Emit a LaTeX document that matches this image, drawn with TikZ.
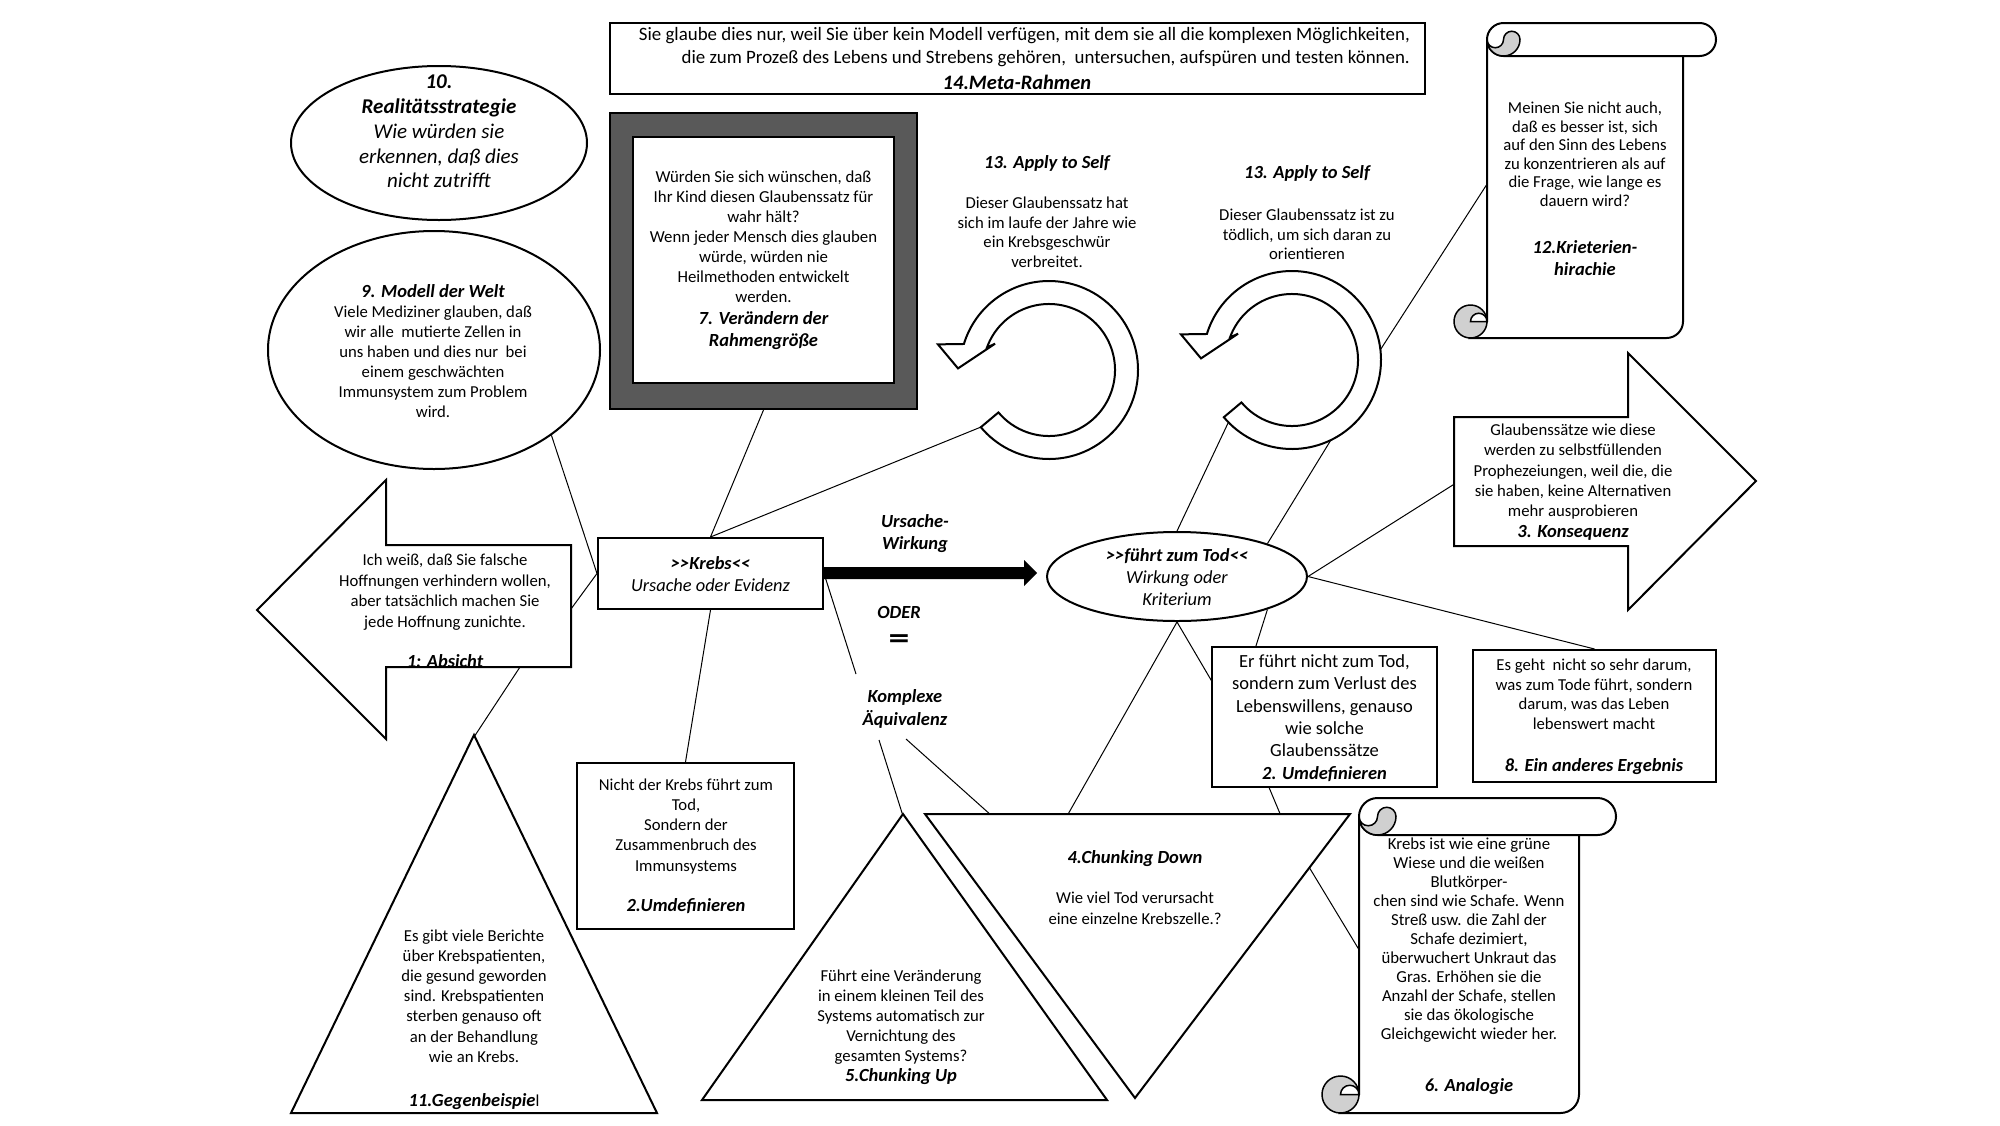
\documentclass[tikz,border=0pt]{standalone}
\usepackage{fontspec}
\usepackage{graphicx}
\setmainfont{Carlito}
\usetikzlibrary{shapes.geometric}
\pgfdeclarelayer{bg}
\pgfsetlayers{bg,main}
\newcommand{\fsz}[2]{\fontsize{#1}{#2}\selectfont}
\newcommand{\bi}[1]{\textbf{\textit{#1}}}
\newcommand{\ttl}[1]{{\fontsize{18.5}{20}\selectfont\bfseries\itshape #1}}
\newcommand{\dgt}{>\kern0pt>}
\newcommand{\dlt}{<\kern0pt<}
\definecolor{framegrey}{HTML}{595959}
\definecolor{curlgrey}{HTML}{D0D0D0}
\tikzset{
  shp/.style={draw=black, line width=2pt, fill=white, line join=miter},
  box/.style={shp, rectangle, inner sep=0pt},
  oval/.style={shp, ellipse, inner sep=0pt},
  con/.style={draw=black, line width=1pt},
  txt/.style={align=center, inner sep=0pt},
  curl/.style={draw=black, line width=1.5pt, fill=curlgrey},
}
\newcommand{\vscroll}[5]{%
  \pgfmathsetmacro\vsL{#1}\pgfmathsetmacro\vsT{#2}%
  \pgfmathsetmacro\vsR{#3}\pgfmathsetmacro\vsB{#4}\pgfmathsetmacro\vsr{#5}%
  \path[shp] ({\vsL-\vsr},\vsB) -- ({\vsR-\vsr},\vsB) arc[start angle=90, end angle=0, radius=\vsr] -- (\vsR,{\vsT+\vsr}) -- (\vsL,{\vsT+\vsr}) -- (\vsL,{\vsB-\vsr}) -- cycle;
  \path[curl] ({\vsL-\vsr},{\vsB-\vsr}) circle[radius=\vsr];
  \path[shp, line width=1.5pt] (\vsL,{\vsB-\vsr}) arc[start angle=0, end angle=-180, radius=\vsr/2] -- cycle;
  \path[shp, rounded corners=\vsr pt] (\vsL,\vsT) rectangle ({\vsR+2*\vsr},{\vsT+2*\vsr});
  \path[curl] (\vsL,{\vsT+\vsr}) arc[start angle=180, end angle=0, radius=\vsr] arc[start angle=0, end angle=-180, radius=\vsr/2] arc[start angle=0, end angle=180, radius=\vsr/2] -- cycle;
}
\newcommand{\circarrow}[2]{%
  \begin{scope}[shift={#2}]
    \path[shp] (140:89) arc[start angle=140, end angle=-163, radius=89] -- (-167:114) -- (-179:91) -- (-154:60) -- (-160:66) arc[start angle=-160, end angle=140, radius=66] -- cycle;
    \coordinate (#1tail) at (138:80);
    \coordinate (#1bot) at (62:87);
    \coordinate (#1right) at (-5:87);
  \end{scope}
}
\begin{document}
\begin{tikzpicture}[x=1pt,y=-1pt]
\useasboundingbox (0,0) rectangle (2000,1125);

% ---------- boxes and ellipses ----------
\node[box, minimum width=815pt, minimum height=71pt] (b14) at (1017.5,58.5) {};
\node[box, fill=framegrey, minimum width=307pt, minimum height=296pt] (frame) at (763.5,261) {};
\node[box, minimum width=261pt, minimum height=246pt] (frin) at (763.5,260) {};
\node[oval, minimum width=296pt, minimum height=154pt] (e10) at (439,143) {};
\node[oval, minimum width=332pt, minimum height=238pt] (e9) at (434,350) {};
\node[box, minimum width=225pt, minimum height=71pt] (krebs) at (710.5,573.5) {};
\node[oval, minimum width=260pt, minimum height=89pt] (tod) at (1177,576.5) {};
\node[box, minimum width=217pt, minimum height=166pt] (b2l) at (685.5,846) {};
\node[box, minimum width=225pt, minimum height=140pt] (b2r) at (1324.5,717) {};
\node[box, minimum width=243pt, minimum height=132pt] (b8) at (1594.5,716) {};

% ---------- arrows, triangles ----------
\path[shp] (257,610) -- (386,480) -- (386,545) -- (571,545) -- (571,667) -- (386,667) -- (386,739) -- cycle;
\path[shp] (1454,417) -- (1628,417) -- (1628,353) -- (1756,481) -- (1628,610) -- (1628,546) -- (1454,546) -- cycle;
\path[shp] (474,735) -- (657,1113) -- (291,1113) -- cycle;
\path[shp] (903,814) -- (1107,1100) -- (702,1100) -- cycle;
\path[shp] (925,814) -- (1350,814) -- (1135,1098) -- cycle;
\fill[black] (823,567) -- (1024,567) -- (1024,560) -- (1037,573) -- (1024,586) -- (1024,579) -- (823,579) -- cycle;

% ---------- scrolls ----------
\vscroll{1487}{23}{1683}{338}{16.5}
\vscroll{1359}{798}{1579}{1113}{18.5}

% ---------- circular arrows ----------
\circarrow{cL}{(1049,370)}
\circarrow{cR}{(1292,360)}

% ---------- connector end points ----------
\coordinate (a1r) at (571,609);
\coordinate (a1b) at (520,667);
\coordinate (t11a) at (474,737);
\coordinate (kq1) at (856,674);
\coordinate (kq2) at (879,740);
\coordinate (kq3) at (906,739);
\coordinate (t5a) at (903,816);
\coordinate (t4a) at (992,816);
\coordinate (t4b) at (1067,816);
\coordinate (t4c) at (1281,816);
\coordinate (t4r) at (1309,867);
\coordinate (s12l) at (1489,181);
\coordinate (s6l) at (1361,953);
\coordinate (a3l) at (1456,483);
\coordinate (b2rt) at (1255,649);
\coordinate (b2rl) at (1214,685);
\coordinate (b2rb) at (1268,785);

\begin{pgfonlayer}{bg}
\fill[white] (0,0) rectangle (2000,1125);
\draw[con] (frame.south) -- (krebs.north);
\draw[con] (cLtail) -- (krebs.north);
\draw[con] (e9.-36) -- (krebs.west);
\draw[con] (a1r) -- (krebs.west);
\draw[con] (a1b) -- (t11a);
\draw[con] (krebs.south) -- (b2l.north);
\draw[con] (krebs.east) -- (kq1);
\draw[con] (kq2) -- (t5a);
\draw[con] (kq3) -- (t4a);
\draw[con] (cRtail) -- (tod.north);
\draw[con] (cRbot) -- (tod.20);
\draw[con] (cRright) -- (s12l);
\draw[con] (tod.east) -- (a3l);
\draw[con] (tod.east) -- (b8.north);
\draw[con] (tod.-20) -- (b2rt);
\draw[con] (tod.south) -- (b2rl);
\draw[con] (tod.south) -- (t4b);
\draw[con] (b2rb) -- (t4c);
\draw[con] (t4r) -- (s6l);
\end{pgfonlayer}

% ---------- texts ----------
\node[txt, font=\fsz{18.9}{22.5}, align=right, anchor=east] (t14) at (1410,47) {Sie glaube dies nur, weil Sie über kein Modell verfügen, mit dem sie all die komplexen Möglichkeiten,\\die zum Prozeß des Lebens und Strebens gehören,\ \ untersuchen, aufspüren und testen können.};
\node[txt, font=\fsz{20.5}{22}] (t14b) at (1017,82) {\bi{14.Meta-Rahmen}};
\node[txt, font=\fsz{21}{24.75}] (t10) at (439,131.5) {\bi{10.}\\\bi{Realitätsstrategie}\\\textit{Wie würden sie}\\\textit{erkennen, daß dies}\\\textit{nicht zutrifft}};
\node[txt, font=\fsz{16.8}{20}] (t7) at (763.5,260) {Würden Sie sich wünschen, daß\\Ihr Kind diesen Glaubenssatz für\\wahr hält?\\Wenn jeder Mensch dies glauben\\würde, würden nie\\Heilmethoden entwickelt\\werden.\\[2pt]\ttl{7. Verändern der}\\[2pt]\ttl{Rahmengröße}};
\node[txt, font=\fsz{16.7}{19.5}] (t13l) at (1047,211.5) {\ttl{13. Apply to Self}\\[21pt]Dieser Glaubenssatz hat\\sich im laufe der Jahre wie\\ein Krebsgeschwür\\verbreitet.};
\node[txt, font=\fsz{16.7}{19.5}] (t13r) at (1307,212.5) {\ttl{13. Apply to Self}\\[23pt]Dieser Glaubenssatz ist zu\\tödlich, um sich daran zu\\orientieren};
\node[txt, font=\fsz{16.7}{18.5}] (t12) at (1585,189) {Meinen Sie nicht auch,\\daß es besser ist, sich\\auf den Sinn des Lebens\\zu konzentrieren als auf\\die Frage, wie lange es\\dauern wird?\\[29pt]\ttl{12.Krieterien-}\\[3pt]\ttl{hirachie}};
\node[txt, font=\fsz{16.7}{20}] (t9) at (433,351) {\ttl{9. Modell der Welt}\\Viele Mediziner glauben, daß\\wir alle\ \ mutierte Zellen in\\uns haben und dies nur\ \ bei\\einem geschwächten\\Immunsystem zum Problem\\wird.};
\node[txt, font=\fsz{16.7}{20.5}] (t1) at (445,611) {Ich weiß, daß Sie falsche\\Hoffnungen verhindern wollen,\\aber tatsächlich machen Sie\\jede Hoffnung zunichte.\\[20pt]\ttl{1: Absicht}};
\node[txt, font=\fsz{18.4}{22}] (tkrebs) at (710.5,574) {\bi{\dgt Krebs\dlt}\\\textit{Ursache oder Evidenz}};
\node[txt, font=\fsz{18.5}{22}] (tuw) at (915,534) {\bi{Ursache-}\\\bi{Wirkung}};
\node[txt, font=\fsz{18.5}{30}] (toder) at (899,627) {\bi{ODER}\\{\fontsize{31}{30}\selectfont\scalebox{1.35}[1]{\textbf{=}}}};
\node[txt, font=\fsz{18.5}{23}] (tkompl) at (905,708.5) {\bi{Komplexe}\\\bi{Äquivalenz}};
\node[txt, font=\fsz{18.4}{22}] (ttod) at (1177,577) {\bi{\dgt führt zum Tod\dlt}\\\textit{Wirkung oder}\\\textit{Kriterium}};
\node[txt, font=\fsz{16.7}{20.4}] (t3) at (1573,482) {Glaubenssätze wie diese\\werden zu selbstfüllenden\\Prophezeiungen, weil die, die\\sie haben, keine Alternativen\\mehr ausprobieren\\\ttl{3. Konsequenz}};
\node[txt, font=\fsz{16.7}{20.25}] (t2l) at (686,846) {Nicht der Krebs führt zum\\Tod,\\Sondern der\\Zusammenbruch des\\Immunsystems\\[20pt]\ttl{2.Umdefinieren}};
\node[txt, font=\fsz{18.5}{22.4}] (t2r) at (1324.5,718) {Er führt nicht zum Tod,\\sondern zum Verlust des\\Lebenswillens, genauso\\wie solche\\Glaubenssätze\\\ttl{2. Umdefinieren}};
\node[txt, font=\fsz{16.7}{19.7}] (t8) at (1594,716.5) {Es geht\ \ nicht so sehr darum,\\was zum Tode führt, sondern\\darum, was das Leben\\lebenswert macht\\[22pt]\ttl{8. Ein anderes Ergebnis}};
\node[txt, font=\fsz{16.7}{21}] (t4) at (1135,887.5) {\ttl{4.Chunking Down}\\[19pt]Wie viel Tod verursacht\\eine einzelne Krebszelle.?};
\node[txt, font=\fsz{16.7}{20}] (t5) at (901,1027.5) {Führt eine Veränderung\\in einem kleinen Teil des\\Systems automatisch zur\\Vernichtung des\\gesamten Systems?\\\ttl{5.Chunking Up}};
\node[txt, font=\fsz{16.7}{20.2}] (t11) at (474,1019.5) {Es gibt viele Berichte\\über Krebspatienten,\\die gesund geworden\\sind. Krebspatienten\\sterben genauso oft\\an der Behandlung\\wie an Krebs.\\[24pt]\ttl{11.Gegenbeispie}l};
\node[txt, font=\fsz{16.8}{19}] (t6) at (1469,966) {Krebs ist wie eine grüne\\Wiese und die weißen\\Blutkörper-\\chen sind wie Schafe. Wenn\\Streß usw. die Zahl der\\Schafe dezimiert,\\überwuchert Unkraut das\\Gras. Erhöhen sie die\\Anzahl der Schafe, stellen\\sie das ökologische\\Gleichgewicht wieder her.\\[33pt]\ttl{6. Analogie}};
\end{tikzpicture}
\end{document}
